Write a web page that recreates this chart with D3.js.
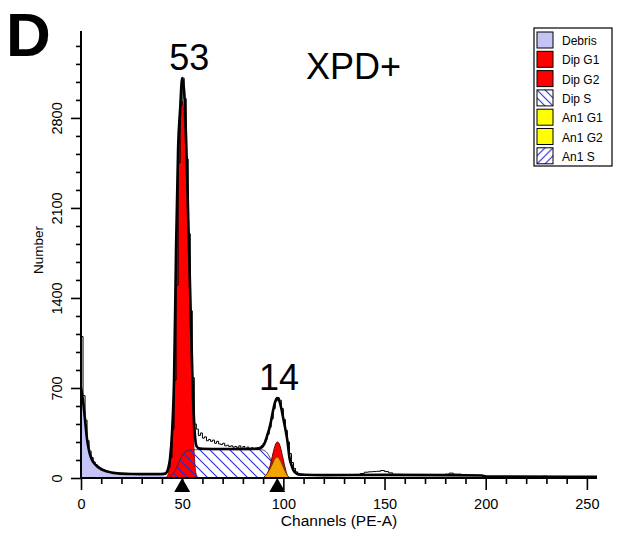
<!DOCTYPE html>
<html>
<head>
<meta charset="utf-8">
<script src="https://cdn.jsdelivr.net/npm/d3@7"></script>
<style>
  html, body { margin: 0; padding: 0; background: #fff; }
  svg { display: block; }
  text { font-family: "Liberation Sans", Arial, sans-serif; }
</style>
</head>
<body>
<svg id="chart" width="617" height="537"></svg>
<script>
// DNA content histogram, PE-A channels vs cell count, with model components.

const xTicks = [0, 50, 100, 150, 200, 250];
const yTicks = [0, 700, 1400, 2100, 2800];

// raw histogram counts [channel, count]
const rawData = [
  [0,1100],[1,640],[2,450],[3,290],[4,210],[5,160],[6,125],[7,105],[8,92],[9,80],
  [10,70],[11,62],[12,56],[13,50],[14,47],[15,43],[16,41],[17,39],[18,37],[19,36],
  [20,35],[22,33],[24,32],[26,31],[28,30],[30,30],[34,29],[38,30],[40,31],[41,34],
  [42,45],[43,80],[44,160],[45,380],[46,760],[47,1500],[48,2450],[49,2900],[50,3110],
  [51,2950],[52,2480],[53,1900],[54,1300],[55,780],[56,420],[57,380],[58,330],[59,350],
  [60,310],[61,320],[62,290],[63,300],[64,285],[65,295],[66,270],[67,285],[68,265],
  [69,260],[70,270],[71,250],[72,255],[73,245],[74,250],[75,240],[76,245],[77,235],
  [78,250],[79,230],[80,245],[81,225],[82,240],[83,225],[84,235],[85,230],[86,232],
  [87,236],[88,240],[89,252],[90,270],[91,300],[92,340],[93,395],[94,460],[95,540],
  [96,600],[97,625],[98,605],[99,540],[100,455],[101,370],[102,280],[103,190],[104,120],
  [105,75],[106,48],[107,36],[108,30],[110,26],[115,24],[120,22],[125,23],[130,24],
  [135,28],[138,35],[140,45],[142,48],[144,50],[146,52],[148,58],[150,50],[152,40],
  [154,28],[158,24],[165,22],[175,22],[180,30],[182,38],[184,30],[188,22],[195,20],
  [198,18],[200,12],[210,10],[220,10],[228,14],[230,10],[240,9],[255,8]
];

// overall model fit [channel, count]
const fitData = [
  [0,700],[1,600],[2,450],[3,300],[4,210],[5,158],[6,125],[7,105],[8,90],[9,78],
  [10,68],[12,55],[14,46],[16,40],[18,36],[20,34],[25,31],[30,30],[38,30],[41,32],
  [42,38],[43,70],[44,150],[45,355],[46,775],[47,1805],[48,2570],[49,2870],[50,3110],
  [51,3000],[52,2610],[53,2020],[54,1420],[55,825],[56,405],[57,250],[58,232],[60,228],
  [70,226],[80,226],[88,228],[89,235],[90,250],[91,280],[92,330],[93,380],[94,450],
  [95,530],[96,595],[97,622],[98,600],[99,540],[100,460],[101,380],[102,290],[103,160],
  [104,100],[105,60],[106,40],[107,30],[110,25],[120,22],[150,24],[180,22],[198,20],
  [200,12],[255,10]
];

// debris component
const debris = [
  [0,680],[1,560],[2,420],[3,280],[4,195],[5,145],[6,112],[7,92],[8,78],[9,66],
  [10,57],[12,44],[14,36],[16,30],[18,26],[20,23],[25,21],[30,20],[35,19],[40,17],
  [45,12],[50,7],[55,4],[60,2],[70,0]
];

// diploid G1 component
const dipG1 = [
  [42,0],[43,30],[44,110],[45,300],[46,700],[47,1700],[48,2450],[49,2720],[50,2930],
  [51,2800],[52,2400],[53,1800],[54,1200],[55,600],[56,180],[57,25],[58,0]
];

// diploid G2 component
const dipG2 = [
  [90,0],[91,10],[92,30],[93,70],[94,130],[95,200],[96,255],[97,280],[98,265],
  [99,210],[100,140],[101,70],[102,20],[103,0]
];

// diploid S phase component
const dipS = [
  [43,0],[44,10],[45,25],[46,45],[47,75],[48,110],[49,145],[50,175],[51,195],[52,208],
  [53,215],[54,218],[55,220],[60,220],[70,220],[80,220],[88,220],[90,218],[91,210],
  [92,195],[93,170],[94,135],[95,100],[96,70],[97,45],[98,25],[99,12],[100,5],[101,0]
];

// aneuploid G1 component
const an1G1 = [
  [90,0],[91,15],[92,35],[93,60],[94,90],[95,125],[96,155],[97,163],[98,150],
  [99,120],[100,85],[101,50],[102,20],[103,5],[104,0]
];

// peak markers on the channel axis
const peakMarkers = [50, 97];

// peak percentage labels
const peakLabels = [
  { text: "53", channel: 53.5, count: 3175 },
  { text: "14", channel: 97.8, count: 684 }
];

const legendItems = [
  { name: "Debris", fill: "#c4c4f6" },
  { name: "Dip G1", fill: "#ff0000" },
  { name: "Dip G2", fill: "#ff0000" },
  { name: "Dip S",  fill: "url(#hatchBackS)" },
  { name: "An1 G1", fill: "#ffff00" },
  { name: "An1 G2", fill: "#ffff00" },
  { name: "An1 S",  fill: "url(#hatchFwd)" }
];

const svg = d3.select("#chart");

const x = d3.scaleLinear().domain([0, 255]).range([81, 597]);
const y = d3.scaleLinear().domain([0, 3476]).range([478, 31]);

// patterns
const defs = svg.append("defs");
const hb = defs.append("pattern").attr("id", "hatchBack")
  .attr("patternUnits", "userSpaceOnUse").attr("width", 10).attr("height", 10);
hb.append("path").attr("d", "M0,0L10,10M-1,9L1,11M9,-1L11,1")
  .attr("stroke", "#2a2ad8").attr("stroke-width", 1.1);
const hbs = defs.append("pattern").attr("id", "hatchBackS")
  .attr("patternUnits", "userSpaceOnUse").attr("width", 8).attr("height", 8);
hbs.append("rect").attr("width", 8).attr("height", 8).attr("fill", "#fff");
hbs.append("path").attr("d", "M0,0L8,8M-1,7L1,9M7,-1L9,1")
  .attr("stroke", "#2a2ad8").attr("stroke-width", 1.1);
const hf = defs.append("pattern").attr("id", "hatchFwd")
  .attr("patternUnits", "userSpaceOnUse").attr("width", 8).attr("height", 8);
hf.append("rect").attr("width", 8).attr("height", 8).attr("fill", "#fff");
hf.append("path").attr("d", "M0,8L8,0M-1,1L1,-1M7,9L9,7")
  .attr("stroke", "#2a2ad8").attr("stroke-width", 1.1);

defs.append("clipPath").attr("id", "plotClip")
  .append("rect").attr("x", x(0)).attr("y", y.range()[1])
  .attr("width", x(255) - x(0)).attr("height", y(0) - y.range()[1]);

const plot = svg.append("g").attr("clip-path", "url(#plotClip)");

const area = d3.area().x(d => x(d[0])).y0(y(0)).y1(d => y(d[1]))
  .curve(d3.curveMonotoneX);
const line = d3.line().x(d => x(d[0])).y(d => y(d[1])).curve(d3.curveMonotoneX);

// components
plot.append("path").datum(debris).attr("d", area)
  .attr("fill", "#c4c4f6").attr("stroke", "none");
plot.append("path").datum(dipG1).attr("d", area)
  .attr("fill", "#ff0000").attr("stroke", "#7a0000").attr("stroke-width", 0.8);
plot.append("path").datum(dipG2).attr("d", area)
  .attr("fill", "#ff0000").attr("stroke", "#6a0000").attr("stroke-width", 1);
plot.append("path").datum(dipS).attr("d", area)
  .attr("fill", "url(#hatchBack)").attr("stroke", "#3a1a40").attr("stroke-width", 0.8);
plot.append("path").datum(an1G1).attr("d", area)
  .attr("fill", "#f2a300").attr("stroke", "#5a3a00").attr("stroke-width", 1);

// raw histogram
plot.append("path").datum(rawData)
  .attr("d", d3.line().x(d => x(d[0])).y(d => y(d[1])).curve(d3.curveStepAfter))
  .attr("fill", "none").attr("stroke", "#000").attr("stroke-width", 1);

// model fit
plot.append("path").datum(fitData).attr("d", line)
  .attr("fill", "none").attr("stroke", "#000").attr("stroke-width", 2.6)
  .attr("stroke-linejoin", "round");

// axes
const xAxis = svg.append("g").attr("transform", `translate(0,${y(0)})`);
xAxis.call(d3.axisBottom(x).tickValues(d3.range(0, 256, 10)).tickSize(6).tickFormat(""));
xAxis.call(g => g.selectAll(".tick").filter(d => d % 50 === 0).select("line").attr("y2", 12));
xAxis.selectAll(".tick line").attr("stroke", "#000").attr("stroke-width", 1.6);
xAxis.select(".domain").attr("stroke", "#000").attr("stroke-width", 2)
  .attr("d", `M${x(0)},0H${x(255)}`);
xAxis.selectAll(".tick").filter(d => xTicks.includes(d)).append("text")
  .attr("y", 31).attr("text-anchor", "middle").attr("fill", "#000")
  .style("font-size", "14.5px").text(d => d);

const yAxis = svg.append("g").attr("transform", `translate(${x(0)},0)`);
yAxis.call(d3.axisLeft(y).tickValues(d3.range(0, 3400, 140)).tickSize(5).tickFormat(""));
yAxis.call(g => g.selectAll(".tick").filter(d => d % 700 === 0).select("line").attr("x2", -10));
yAxis.selectAll(".tick line").attr("stroke", "#000").attr("stroke-width", 1.6);
yAxis.select(".domain").attr("stroke", "#000").attr("stroke-width", 2)
  .attr("d", `M0,${y(0) + 1}V${y.range()[1]}`);
yAxis.selectAll(".tick").filter(d => yTicks.includes(d)).append("text")
  .attr("transform", "translate(-19,0) rotate(-90)")
  .attr("text-anchor", "middle").attr("fill", "#000")
  .style("font-size", "14.5px").text(d => d);

// axis titles
svg.append("text").attr("x", (x(0) + x(255)) / 2).attr("y", 526)
  .attr("text-anchor", "middle").style("font-size", "15.5px").text("Channels (PE-A)");
svg.append("text").attr("transform", `translate(43,250) rotate(-90)`)
  .attr("text-anchor", "middle").style("font-size", "13.5px").text("Number");

// peak markers
svg.append("g").selectAll("path").data(peakMarkers).join("path")
  .attr("d", d => `M${x(d)},${y(0)}L${x(d) - 8},${y(0) + 14}L${x(d) + 8},${y(0) + 14}Z`)
  .attr("fill", "#000");

// peak labels
svg.append("g").selectAll("text").data(peakLabels).join("text")
  .attr("x", d => x(d.channel)).attr("y", d => y(d.count))
  .attr("text-anchor", "middle").style("font-size", "36px").text(d => d.text);

// sample title and panel letter
svg.append("text").attr("x", 306).attr("y", 79).style("font-size", "36px").text("XPD+");
svg.append("text").attr("x", 6).attr("y", 56).style("font-size", "62px")
  .style("font-weight", "bold").text("D");

// legend
const lg = svg.append("g").attr("transform", "translate(534,28)");
lg.append("rect").attr("width", 78).attr("height", 138)
  .attr("fill", "#fff").attr("stroke", "#000").attr("stroke-width", 1.2);
const rows = lg.selectAll("g").data(legendItems).join("g")
  .attr("transform", (d, i) => `translate(3,${4 + i * 19.3})`);
rows.append("rect").attr("width", 16).attr("height", 16)
  .attr("fill", d => d.fill).attr("stroke", "#000").attr("stroke-width", 1);
rows.append("text").attr("x", 25).attr("y", 13)
  .style("font-size", "12px").text(d => d.name);
</script>
</body>
</html>
